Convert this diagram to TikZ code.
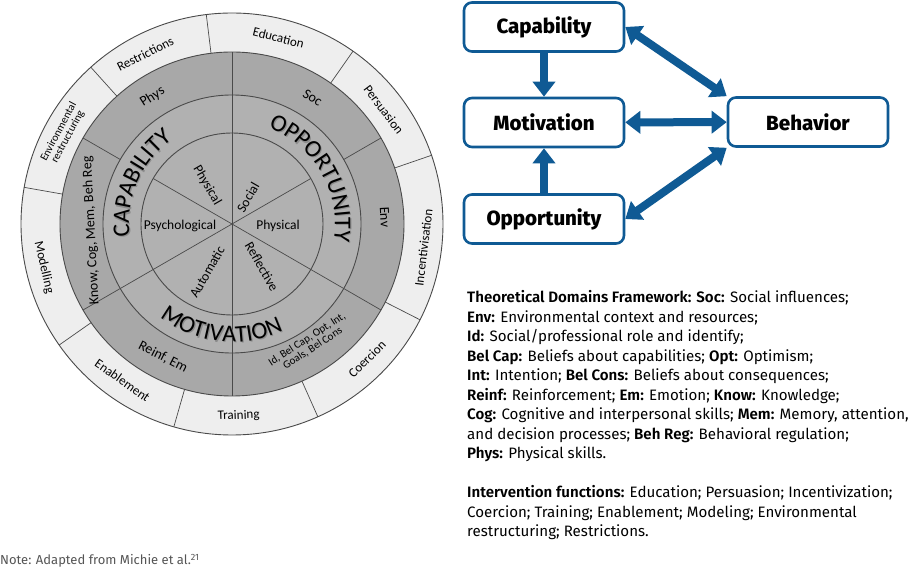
\documentclass[tikz,border=0pt]{standalone}
\usepackage{fontspec}
\setmainfont{Fira Sans}[BoldFont={Fira Sans SemiBold}]
\newfontfamily\boxfont{Fira Sans ExtraBold}
\newfontfamily\wheelfont{Carlito}
\usetikzlibrary{arrows.meta}
\usetikzlibrary{decorations.text}
\definecolor{combColor}{HTML}{0F5A94}
\definecolor{wheelLight}{HTML}{EEEEEE}
\definecolor{wheelDark}{HTML}{A8A8A8}
\definecolor{wheelMid}{HTML}{B1B1B1}
\definecolor{wheelLine}{HTML}{4A4A4A}
\definecolor{noteColor}{HTML}{555555}

\begin{document}
\begin{tikzpicture}[x=1pt, y=1pt, >={Triangle[length=15pt,width=22pt]}]
  \tikzset{
    combox/.style={draw=combColor, line width=2.6pt, rounded corners=8pt, fill=white,
      minimum width=160pt, minimum height=49pt, inner sep=0pt,
      font=\boxfont\fontsize{20.5}{24}\selectfont},
    combarrow/.style={draw=combColor, line width=8pt},
    wheeltxt/.style={font=\wheelfont\fontsize{13}{13}\selectfont, inner sep=0pt, align=center},
    domaintxt/.style={font=\wheelfont\fontsize{14}{14}\selectfont, inner sep=0pt, align=center},
    sourcetxt/.style={font=\wheelfont\fontsize{13.5}{13.5}\selectfont, inner sep=0pt},
    wheelsmall/.style={font=\wheelfont\fontsize{11}{10.5}\selectfont, inner sep=0pt, align=center},
    wheelline/.style={draw=wheelLine, line width=0.7pt},
    legend/.style={anchor=base west, inner sep=0pt, font=\fontsize{15.1}{19.5}\selectfont},
  }
  \useasboundingbox (-232,-345) rectangle (684,224);

  % wheel rings
  \fill[wheelLight] (0,0) circle (211);
  \fill[wheelDark] (0,0) circle (172);
  \fill[wheelMid] (0,0) circle (129);
  \draw[wheelline, line width=0.9pt] (0,0) circle (211) (0,0) circle (172)
    (0,0) circle (129) (0,0) circle (91);
  \foreach \a in {30,90,...,330} \draw[wheelline] (0,0) -- (\a:91);
  \foreach \a in {90,210,270,330} \draw[wheelline] (\a:91) -- (\a:129);
  \foreach \a in {30,90,...,330} \draw[wheelline] (\a:129) -- (\a:172);
  \foreach \a in {19,55,97,132,170,215,254,294,333} \draw[wheelline] (\a:172) -- (\a:211);

  % COM-B labels along the middle ring
  \begin{scope}[shift={(1.2,-1.2)}]
    \path[decorate, decoration={text along path, text align=center,
        text={|\wheelfont\fontsize{24}{24}\selectfont\color{black!45}|CAPABILITY}}]
      (196:103) arc[start angle=196, end angle=116, radius=103];
    \path[decorate, decoration={text along path, text align=center,
        text={|\wheelfont\fontsize{24}{24}\selectfont\color{black!45}|OPPORTUNITY}}]
      (80:103) arc[start angle=80, end angle=-20, radius=103];
    \path[decorate, decoration={text along path, text align=center,
        text={|\wheelfont\fontsize{24}{24}\selectfont\color{black!45}|MOTIVATION}}]
      (214:118) arc[start angle=214, end angle=314, radius=118];
  \end{scope}
  \path[decorate, decoration={text along path, text align=center,
      text={|\wheelfont\fontsize{24}{24}\selectfont|CAPABILITY}}]
    (196:103) arc[start angle=196, end angle=116, radius=103];
  \path[decorate, decoration={text along path, text align=center,
      text={|\wheelfont\fontsize{24}{24}\selectfont|OPPORTUNITY}}]
    (80:103) arc[start angle=80, end angle=-20, radius=103];
  \path[decorate, decoration={text along path, text align=center,
      text={|\wheelfont\fontsize{24}{24}\selectfont|MOTIVATION}}]
    (214:118) arc[start angle=214, end angle=314, radius=118];

  % inner sources
  \node[sourcetxt, rotate=-60] (capPhys) at (122.7:46) {Physical};
  \node[sourcetxt, rotate=60] (oppSoc) at (59:31) {Social};
  \node[sourcetxt] (capPsy) at (-52,-2) {Psychological};
  \node[sourcetxt] (oppPhys) at (46,-2) {Physical};
  \node[sourcetxt, rotate=60] (motAuto) at (242.5:54) {Automatic};
  \node[sourcetxt, rotate=-60] (motRefl) at (305:52) {Reflective};

  % TDF domains
  \node[domaintxt, rotate=32] (tdfPhys) at (122:150) {Phys};
  \node[domaintxt, rotate=-32] (tdfSoc) at (57.5:150) {Soc};
  \node[domaintxt, rotate=-87] (tdfEnv) at (2.6:153) {Env};
  \node[wheelsmall, rotate=33] (tdfId) at (303:143) {Id, Bel Cap, Opt, Int,\\Goals, Bel Cons};
  \node[domaintxt, rotate=-27] (tdfReinf) at (242.6:150) {Reinf, Em};
  \node[domaintxt, rotate=93] (tdfKnow) at (182.7:141) {Know, Cog, Mem, Beh Reg};

  % intervention functions
  \node[wheeltxt, rotate=-14] (ifEdu) at (76:192) {Education};
  \node[wheeltxt, rotate=-53] (ifPers) at (37:190) {Persuasion};
  \node[wheeltxt, rotate=83] (ifInc) at (353:193) {Incentivisation};
  \node[wheeltxt, rotate=45] (ifCoer) at (-45:191) {Coercion};
  \node[wheeltxt, rotate=2] (ifTrain) at (272:192) {Training};
  \node[wheeltxt, rotate=-35] (ifEnab) at (235:191) {Enablement};
  \node[wheeltxt, rotate=-77] (ifMod) at (193:193) {Modelling};
  \node[wheelsmall, rotate=62] (ifEnv) at (152:191) {Environmental\\restructuring};
  \node[wheeltxt, rotate=27] (ifRestr) at (117:191) {Restrictions};

  % COM-B system
  \node[combox] (cap) at (312,197) {Capability};
  \node[combox] (mot) at (312,101.5) {Motivation};
  \node[combox] (opp) at (312,5) {Opportunity};
  \node[combox] (beh) at (576,102) {Behavior};
  \draw[combarrow, ->] (cap) -- (mot);
  \draw[combarrow, ->] (opp) -- (mot);
  \draw[combarrow, <->] (mot) -- (beh);
  \draw[combarrow, <->] (cap.east) -- (beh.north west);
  \draw[combarrow, <->] (opp.east) -- (beh.south west);

  % key
  \node[legend] (key1) at (235,-79) {\textbf{Theoretical Domains Framework: Soc:} Social influences;};
  \node[legend] (key2) at (235,-98.5) {\textbf{Env:} Environmental context and resources;};
  \node[legend] (key3) at (235,-118) {\textbf{Id:} Social/professional role and identify;};
  \node[legend] (key4) at (235,-137.5) {\textbf{Bel Cap:} Beliefs about capabilities; \textbf{Opt:} Optimism;};
  \node[legend] (key5) at (235,-157) {\textbf{Int:} Intention; \textbf{Bel Cons:} Beliefs about consequences;};
  \node[legend] (key6) at (235,-176.5) {\textbf{Reinf:} Reinforcement; \textbf{Em:} Emotion; \textbf{Know:} Knowledge;};
  \node[legend] (key7) at (235,-196) {\textbf{Cog:} Cognitive and interpersonal skills; \textbf{Mem:} Memory, attention,};
  \node[legend] (key8) at (235,-215.5) {and decision processes; \textbf{Beh Reg:} Behavioral regulation;};
  \node[legend] (key9) at (235,-235) {\textbf{Phys:} Physical skills.};
  \node[legend] (ifn1) at (235,-274) {\textbf{Intervention functions:} Education; Persuasion; Incentivization;};
  \node[legend] (ifn2) at (235,-293.5) {Coercion; Training; Enablement; Modeling; Environmental};
  \node[legend] (ifn3) at (235,-313) {restructuring; Restrictions.};

  \node[anchor=base west, inner sep=0pt, text=noteColor, font=\fontsize{13}{15}\selectfont]
    (note) at (-232,-341) {Note: Adapted from Michie et al.\textsuperscript{21}};
\end{tikzpicture}
\end{document}
